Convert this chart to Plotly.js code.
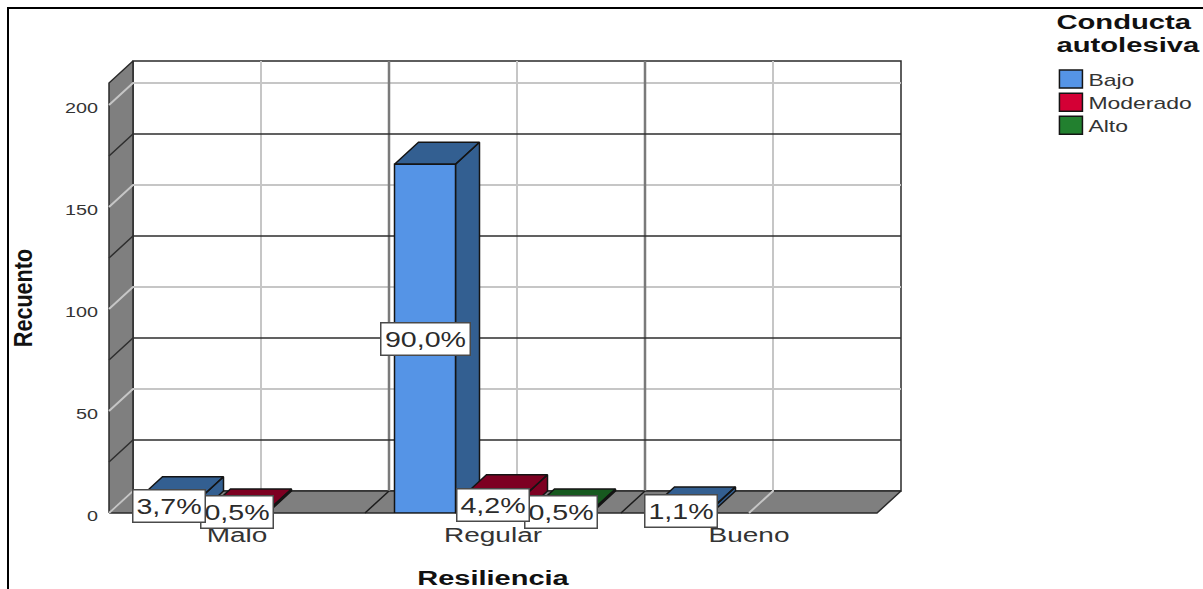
<!DOCTYPE html>
<html lang="es">
<head>
<meta charset="utf-8">
<script src="https://cdn.plot.ly/plotly-3.0.1.min.js"></script>
<style>
html,body{margin:0;padding:0;background:#fff;overflow:hidden}
#frame{position:absolute;left:7px;top:7px;width:1300px;height:700px;border:2px solid #000;box-sizing:border-box}
#chart{position:absolute;left:0;top:0;width:1203px;height:589px}
</style>
</head>
<body>
<div id="frame"></div>
<div id="chart"></div>
<script>
// ---- data ----
const categories = ['Malo', 'Regular', 'Bueno'];
const seriesNames = ['Bajo', 'Moderado', 'Alto'];
const bajo = [7, 171, 2];
const moderado = [1, 8, null];
const alto = [null, 1, null];
const bajoLabels = ['3,7%', '90,0%', '1,1%'];
const moderadoLabels = ['0,5%', '4,2%', null];
const altoLabels = [null, '0,5%', null];
const yTicks = [0, 50, 100, 150, 200];
const darkGridValues = [25, 75, 125, 175];
const lightGridValues = [50, 100, 150, 200];

// ---- styling ----
const frontColors = ['#5594e6', '#d40035', '#22802f'];
const depthColors = ['#335f91', '#7d0022', '#17591f'];
const FONT = '"Liberation Sans", Arial, sans-serif';
const EDGE = '#141414';
const pxPerX = 256, pxPerY = 2.04, padPx = 3;
const xRange = [-0.5, 2.5];
const yRange = [0, 210.8];
const depthX = 24 / pxPerX;
const depthY = 22 / pxPerY;
const barWidth = 61 / pxPerX;
const barStep = 68 / pxPerX;
const padX = padPx / pxPerX, padY = padPx / pxPerY;

const catIdx = categories.map((_, i) => i);
const seriesValues = [bajo, moderado, alto];
const seriesLabels = [bajoLabels, moderadoLabels, altoLabels];

function poly(color, xs, ys, lineColor, lineWidth) {
  return {type: 'scatter', mode: 'lines', x: xs, y: ys, fill: 'toself', fillcolor: color,
    line: {color: lineColor || EDGE, width: lineWidth === undefined ? 1.5 : lineWidth},
    showlegend: false, hoverinfo: 'skip'};
}
function lines(xs, ys, color, width) {
  return {type: 'scatter', mode: 'lines', x: xs, y: ys, line: {color: color, width: width},
    showlegend: false, hoverinfo: 'skip', connectgaps: false};
}
const [x0, x1] = xRange, [y0, y1] = yRange;
const traces = [];
// back wall, side wall and floor
traces.push(poly('#ffffff', [x0+depthX, x1+depthX, x1+depthX, x0+depthX, x0+depthX],
  [y0+depthY, y0+depthY, y1+depthY, y1+depthY, y0+depthY], '#2a2a2a', 1.5));
traces.push(poly('#7f7f7f', [x0, x0+depthX, x0+depthX, x0, x0],
  [y0, y0+depthY, y1+depthY, y1, y0], '#2a2a2a', 1.5));
traces.push(poly('#7f7f7f', [x0, x0+depthX, x1+depthX, x1, x0],
  [y0, y0+depthY, y0+depthY, y0, y0], '#2a2a2a', 1.5));
// light gridlines
{
  const xs = [], ys = [];
  lightGridValues.forEach(v => { xs.push(x0, x0+depthX, x1+depthX, null); ys.push(v, v+depthY, v+depthY, null); });
  catIdx.forEach(c => { xs.push(c, c+depthX, c+depthX, null); ys.push(y0, y0+depthY, y1+depthY, null); });
  xs.push(x0, x0+depthX, null); ys.push(y0, y0+depthY, null);
  traces.push(lines(xs, ys, '#c6c6c6', 2));
}
// category separators on the back wall
{
  const xs = [], ys = [], fx = [], fy = [];
  [0.5, 1.5].forEach(c => {
    xs.push(c+depthX, c+depthX, null); ys.push(y0+depthY, y1+depthY, null);
    fx.push(c, c+depthX, null); fy.push(y0, y0+depthY, null);
  });
  traces.push(lines(xs, ys, '#7a7a7a', 2.5));
  traces.push(lines(fx, fy, '#1c1c1c', 1.5));
}
// dark gridlines
{
  const xs = [], ys = [];
  darkGridValues.forEach(v => { xs.push(x0, x0+depthX, x1+depthX, null); ys.push(v, v+depthY, v+depthY, null); });
  traces.push(lines(xs, ys, '#2e2e2e', 1.5));
}
// bars: top and side faces
const offsets = seriesNames.map((_, s) => (s - 1) * barStep);
seriesNames.forEach((name, s) => {
  const xs = [], ys = [];
  catIdx.forEach(c => {
    const v = seriesValues[s][c];
    if (v === null) return;
    const l = c + offsets[s] - barWidth / 2, r = l + barWidth;
    xs.push(l, l+depthX, r+depthX, r, l, null); ys.push(v, v+depthY, v+depthY, v, v, null);
    xs.push(r, r+depthX, r+depthX, r, r, null); ys.push(v, v+depthY, depthY, 0, v, null);
  });
  traces.push(poly(depthColors[s], xs, ys));
});
// bars: the front faces, on the axes that carry the ticks
seriesNames.forEach((name, s) => {
  const keep = catIdx.filter(c => seriesValues[s][c] !== null);
  traces.push({type: 'bar', name: name, xaxis: 'x2', yaxis: 'y2',
    x: keep.map(c => c + offsets[s]), y: keep.map(c => seriesValues[s][c]), width: barWidth,
    marker: {color: frontColors[s], line: {color: EDGE, width: 1.5}}, hoverinfo: 'y+name'});
});

// data labels, later series first so the earlier boxes sit on top
const annotations = [];
[2, 1, 0].forEach(s => catIdx.forEach(c => {
  const label = seriesLabels[s][c];
  if (label === null) return;
  annotations.push({xref: 'x2', yref: 'y2', x: c + offsets[s], y: seriesValues[s][c] / 2,
    text: label, showarrow: false, bgcolor: '#ffffff', bordercolor: '#4a4a4a', borderwidth: 1.5, borderpad: 0,
    width: label.length > 4 ? 88 : 71, height: 31, align: 'center', valign: 'middle',
    font: {family: FONT, size: 22, color: '#2b2b2b'}});
}));

const plotW = 792 + 2 * padPx, plotH = 452 + 2 * padPx;
const layout = {
  width: 1203, height: 589, paper_bgcolor: 'rgba(0,0,0,0)', plot_bgcolor: 'rgba(0,0,0,0)',
  margin: {l: 109 - padPx, r: 302 - padPx, t: 61 - padPx, b: 76 - padPx, pad: 0, autoexpand: false},
  barmode: 'overlay', showlegend: true,
  xaxis: {range: [x0 - padX, x1 + depthX + padX], visible: false, fixedrange: true},
  yaxis: {range: [y0 - padY, y1 + depthY + padY], visible: false, fixedrange: true},
  xaxis2: {domain: [padPx / plotW, (padPx + 768) / plotW], anchor: 'y2', range: xRange,
    tickvals: catIdx, ticktext: categories, showgrid: false, zeroline: false, showline: false,
    ticks: 'outside', ticklen: 4, tickcolor: 'rgba(0,0,0,0)', fixedrange: true,
    tickfont: {family: FONT, size: 20, color: '#333333'},
    title: {text: 'Resiliencia', standoff: 27, font: {family: FONT, size: 20, color: '#111111', weight: 'bold'}}},
  yaxis2: {domain: [padPx / plotH, (padPx + 430) / plotH], anchor: 'x2', range: yRange,
    tickvals: yTicks, showgrid: false, zeroline: false, showline: false,
    ticks: 'outside', ticklen: 7, tickcolor: 'rgba(0,0,0,0)', fixedrange: true, ticklabelshift: 3,
    tickfont: {family: FONT, size: 15, color: '#333333'},
    title: {text: 'Recuento', standoff: 32, font: {family: FONT, size: 26, color: '#111111', weight: 'bold'}}},
  legend: {x: 1.181, xanchor: 'left', y: 1.12, yanchor: 'top', bgcolor: 'rgba(0,0,0,0)', borderwidth: 0,
    font: {family: FONT, size: 17, color: '#333333'}, itemclick: false, itemdoubleclick: false,
    title: {text: 'Conducta<br>autolesiva', side: 'top', font: {family: FONT, size: 20, color: '#111111', weight: 'bold'}}},
  annotations: annotations
};

function stretch(selector, factor) {
  document.querySelectorAll(selector).forEach(t => {
    const len = t.getComputedTextLength();
    t.setAttribute('lengthAdjust', 'spacingAndGlyphs');
    t.setAttribute('textLength', (len * factor).toFixed(1));
  });
}
Plotly.newPlot('chart', traces, layout, {displayModeBar: false, responsive: false}).then(() => {
  // the reference was stretched sideways: widen the glyphs the same way
  stretch('.x2tick text', 1.4);
  stretch('.y2tick text', 1.32);
  stretch('.g-x2title text', 1.45);
  stretch('.g-y2title text', 0.83);
  stretch('.legendtext', 1.35);
  stretch('.legendtitletext tspan', 1.46);
  stretch('.annotation-text', 1.3);
  // legend: let the widened text show, tighten the rows, enlarge the swatches
  document.querySelectorAll('.legend [clip-path]').forEach(n => n.removeAttribute('clip-path'));
  document.querySelectorAll('.legend .traces').forEach((g, i) => {
    const m = /translate\(\s*([-\d.]+)[ ,]+([-\d.]+)/.exec(g.getAttribute('transform'));
    if (m) g.setAttribute('transform', 'translate(' + m[1] + ',' + (parseFloat(m[2]) + 7 - 2 * i) + ')');
  });
  document.querySelectorAll('.legendpoints path').forEach(p => p.setAttribute('d', 'M14,8.5H-9V-9.5H14Z'));
  const title = document.querySelector('.legendtitletext');
  if (title) {
    title.setAttribute('transform', 'translate(6,0)');
    const second = title.querySelectorAll('tspan.line')[1];
    if (second && second.getAttribute('dy')) second.setAttribute('dy', '1.15em');
  }
});
</script>
</body>
</html>
